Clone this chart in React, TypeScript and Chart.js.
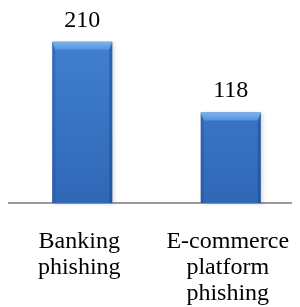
import React, { useEffect, useRef } from "react";
import { Chart, registerables } from "chart.js";

Chart.register(...registerables);

const categories: string[][] = [["Banking", "phishing"], ["E-commerce", "platform", "phishing"]];
const values: number[] = [210, 118];
const yMax = 250;

const FONT = "'Liberation Serif', 'Times New Roman', serif";

const shadowPlugin = {
  id: "barShadow",
  beforeDatasetsDraw(chart: any) {
    const ctx = chart.ctx;
    const meta = chart.getDatasetMeta(0);
    ctx.save();
    meta.data.forEach((bar: any) => {
      const w = bar.width;
      const l = bar.x - w / 2;
      ctx.shadowColor = "rgba(0,0,0,0.35)";
      ctx.shadowBlur = 4;
      ctx.shadowOffsetX = 2;
      ctx.shadowOffsetY = 1;
      ctx.fillStyle = "rgba(120,120,120,0.4)";
      ctx.fillRect(l, bar.y, w, bar.base - bar.y);
    });
    ctx.restore();
  },
};

const bevelPlugin = {
  id: "bevel",
  afterDatasetsDraw(chart: any) {
    const ctx = chart.ctx;
    const meta = chart.getDatasetMeta(0);
    ctx.save();
    meta.data.forEach((bar: any) => {
      const w = bar.width;
      const l = bar.x - w / 2;
      const r = bar.x + w / 2;
      const t = bar.y;
      const b = bar.base;
      const bv = 8;
      ctx.fillStyle = "rgba(30,70,140,0.3)";
      ctx.beginPath();
      ctx.moveTo(l, t);
      ctx.lineTo(l + 3, t + bv);
      ctx.lineTo(l + 3, b);
      ctx.lineTo(l, b);
      ctx.closePath();
      ctx.fill();
      ctx.fillStyle = "rgba(25,60,125,0.4)";
      ctx.beginPath();
      ctx.moveTo(r, t);
      ctx.lineTo(r - 3, t + bv);
      ctx.lineTo(r - 3, b);
      ctx.lineTo(r, b);
      ctx.closePath();
      ctx.fill();
      const g = ctx.createLinearGradient(0, t, 0, t + bv);
      g.addColorStop(0, "#7cb4f0");
      g.addColorStop(1, "#5592dc");
      ctx.fillStyle = g;
      ctx.beginPath();
      ctx.moveTo(l, t);
      ctx.lineTo(r, t);
      ctx.lineTo(r - 3, t + bv);
      ctx.lineTo(l + 3, t + bv);
      ctx.closePath();
      ctx.fill();
    });
    ctx.restore();
  },
};

const valueLabelPlugin = {
  id: "valueLabels",
  afterDatasetsDraw(chart: any) {
    const ctx = chart.ctx;
    const meta = chart.getDatasetMeta(0);
    ctx.save();
    ctx.font = `24px ${FONT}`;
    ctx.fillStyle = "#000";
    ctx.textAlign = "center";
    ctx.textBaseline = "alphabetic";
    meta.data.forEach((bar: any, i: number) => {
      ctx.fillText(String(values[i]), bar.x, bar.y - 15);
    });
    ctx.restore();
  },
};

export default function App() {
  const ref = useRef<HTMLCanvasElement>(null);
  useEffect(() => {
    if (!ref.current) return;
    const chart = new Chart(ref.current, {
      type: "bar",
      data: {
        labels: categories as any,
        datasets: [
          {
            data: values,
            backgroundColor: (c: any) => {
              const ca = c.chart.chartArea;
              if (!ca) return "#3b7acb";
              const g = c.chart.ctx.createLinearGradient(0, ca.top, 0, ca.bottom);
              g.addColorStop(0, "#4383d5");
              g.addColorStop(1, "#3068b6");
              return g;
            },
            borderWidth: 0,
            barPercentage: 0.404,
            categoryPercentage: 1,
          },
        ],
      },
      options: {
        animation: false,
        responsive: true,
        maintainAspectRatio: false,
        layout: { padding: { top: 3, right: 0, left: 0, bottom: 0 } },
        plugins: { legend: { display: false }, tooltip: { enabled: false } },
        scales: {
          y: { display: false, min: 0, max: yMax },
          x: {
            grid: {
              display: true,
              drawOnChartArea: false,
              drawTicks: true,
              tickLength: 26,
              tickColor: "rgba(0,0,0,0)",
              color: "rgba(0,0,0,0)",
            },
            border: { display: true, color: "#9a9a9a", width: 2 },
            ticks: {
              color: "#000",
              font: { family: FONT, size: 24, lineHeight: 1.083 },
              padding: 0,
              maxRotation: 0,
              minRotation: 0,
              autoSkip: false,
              labelOffset: -3,
            },
          },
        },
      },
      plugins: [shadowPlugin, bevelPlugin, valueLabelPlugin],
    });
    return () => chart.destroy();
  }, []);
  return (
    <div style={{ width: 284, height: 299, overflow: "hidden" }}>
      <div style={{ width: 297, height: 299, position: "relative" }}>
        <canvas ref={ref} />
      </div>
    </div>
  );
}
